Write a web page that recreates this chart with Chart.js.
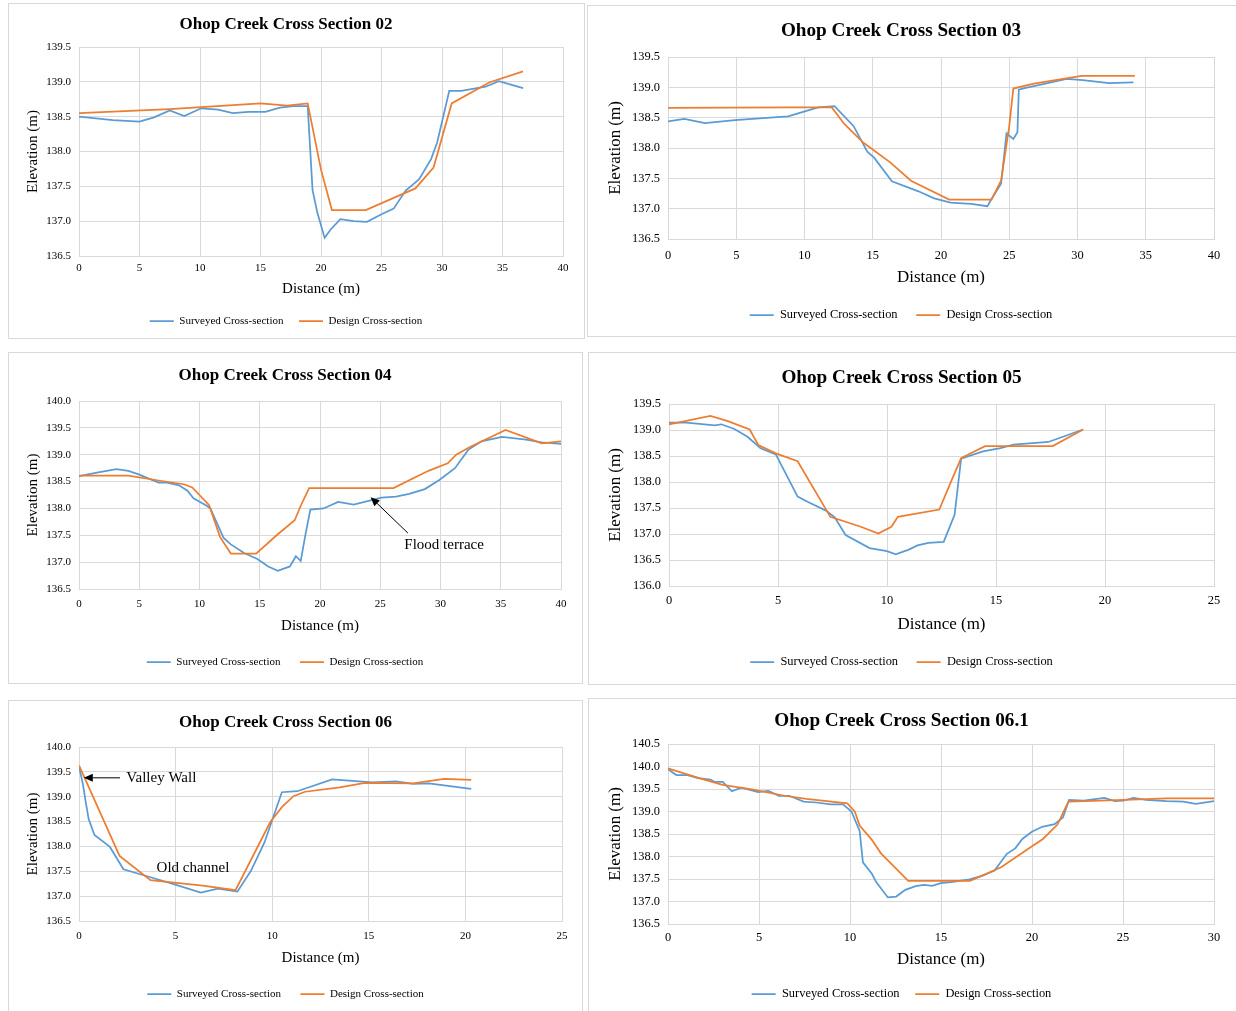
<!DOCTYPE html>
<html>
<head>
<meta charset="utf-8">
<title>Ohop Creek Cross Sections</title>
<script src="https://cdn.jsdelivr.net/npm/chart.js@4.4.1/dist/chart.umd.min.js"></script>
<style>
  html, body { margin: 0; padding: 0; background: #fff; }
  body { width: 1236px; height: 1011px; overflow: hidden; position: relative; }
  .panel { position: absolute; border: 1px solid #d9d9d9; box-sizing: border-box; background: #fff; }
  .panel canvas { position: absolute; left: 0; top: 0; }
</style>
</head>
<body>
<div class="panel" id="p02"><canvas id="c02"></canvas></div>
<div class="panel" id="p03"><canvas id="c03"></canvas></div>
<div class="panel" id="p04"><canvas id="c04"></canvas></div>
<div class="panel" id="p05"><canvas id="c05"></canvas></div>
<div class="panel" id="p06"><canvas id="c06"></canvas></div>
<div class="panel" id="p061"><canvas id="c061"></canvas></div>
<script>
// ohop creek cross sections — surveyed vs design

const BLUE = '#5B9BD5';
const ORANGE = '#ED7D31';
const GRID = '#d9d9d9';
const SERIF = '"Liberation Serif", "Times New Roman", serif';

const SERIES_NAMES = ['Surveyed Cross-section', 'Design Cross-section'];
const X_TITLE = 'Distance (m)';
const Y_TITLE = 'Elevation (m)';

// ── XS 02 ──
const dist02Surveyed = [0, 2.8, 5.0, 6.2, 7.5, 8.7, 10.1, 11.5, 12.7, 14.0, 15.4, 16.6, 17.7, 18.9, 19.3, 19.7, 20.3, 20.8, 21.6, 22.7, 23.8, 25.0, 26.0, 27.0, 28.1, 29.1, 29.6, 30.6, 31.6, 33.6, 34.7, 36.7];
const elev02Surveyed = [138.50, 138.45, 138.43, 138.49, 138.59, 138.51, 138.62, 138.60, 138.55, 138.57, 138.57, 138.63, 138.65, 138.65, 137.45, 137.12, 136.76, 136.88, 137.03, 137.00, 136.99, 137.10, 137.18, 137.44, 137.60, 137.89, 138.13, 138.87, 138.87, 138.93, 139.01, 138.91];
const dist02Design = [0, 7.5, 15.0, 17.2, 18.9, 20.0, 20.9, 23.7, 27.8, 29.3, 30.8, 33.9, 36.7];
const elev02Design = [138.55, 138.61, 138.69, 138.66, 138.69, 137.74, 137.16, 137.16, 137.47, 137.77, 138.69, 138.99, 139.15];

// ── XS 03 ──
const dist03Surveyed = [0, 1.2, 2.7, 4.9, 8.8, 11.0, 12.2, 13.6, 14.6, 15.1, 16.4, 18.3, 19.5, 20.7, 22.2, 23.4, 23.7, 24.4, 24.7, 24.8, 25.3, 25.6, 25.7, 26.2, 27.4, 29.2, 30.4, 32.3, 34.1];
const elev03Surveyed = [138.44, 138.48, 138.41, 138.46, 138.52, 138.67, 138.69, 138.36, 137.94, 137.84, 137.45, 137.29, 137.17, 137.10, 137.08, 137.04, 137.16, 137.41, 138.03, 138.24, 138.15, 138.26, 138.96, 138.99, 139.05, 139.14, 139.12, 139.07, 139.08];
const dist03Design = [0, 9.1, 12.0, 12.9, 14.3, 16.3, 17.8, 20.6, 23.7, 24.4, 25.0, 25.3, 26.8, 30.3, 34.2];
const elev03Design = [138.66, 138.67, 138.67, 138.40, 138.09, 137.76, 137.46, 137.15, 137.15, 137.46, 138.36, 138.98, 139.06, 139.19, 139.19];

// ── XS 04 ──
const dist04Surveyed = [0, 1.6, 3.1, 4.1, 5.0, 6.6, 7.3, 8.3, 9.0, 9.5, 10.6, 10.9, 11.4, 12.0, 12.6, 13.7, 14.8, 15.7, 16.5, 17.5, 18.0, 18.4, 18.8, 19.2, 20.3, 21.5, 22.8, 24.2, 25.1, 26.3, 27.4, 28.7, 29.9, 31.2, 32.3, 33.4, 35.1, 37.1, 38.4, 40.0];
const elev04Surveyed = [138.60, 138.67, 138.73, 138.70, 138.63, 138.48, 138.48, 138.43, 138.33, 138.19, 138.05, 138.00, 137.75, 137.45, 137.33, 137.17, 137.06, 136.92, 136.84, 136.92, 137.11, 137.02, 137.52, 137.98, 138.00, 138.12, 138.07, 138.15, 138.20, 138.22, 138.27, 138.36, 138.53, 138.75, 139.09, 139.25, 139.33, 139.28, 139.23, 139.20];
const dist04Design = [0, 4.1, 6.6, 8.7, 9.4, 10.8, 11.7, 12.6, 14.7, 16.4, 17.9, 18.4, 19.1, 26.1, 29.0, 30.6, 31.3, 32.4, 35.4, 38.4, 40.0];
const elev04Design = [138.61, 138.61, 138.52, 138.45, 138.39, 138.06, 137.47, 137.16, 137.16, 137.50, 137.78, 138.05, 138.38, 138.38, 138.70, 138.84, 139.00, 139.14, 139.46, 139.21, 139.25];

// ── XS 05 ──
const dist05Surveyed = [0, 0.8, 2.1, 2.4, 3.0, 3.6, 4.2, 4.9, 5.9, 6.4, 7.2, 7.6, 8.1, 9.2, 10.0, 10.4, 11.0, 11.4, 11.9, 12.6, 13.1, 13.4, 14.4, 15.2, 15.8, 17.4, 19.0];
const elev05Surveyed = [139.14, 139.14, 139.09, 139.11, 139.02, 138.87, 138.65, 138.53, 137.72, 137.61, 137.45, 137.32, 136.98, 136.73, 136.67, 136.61, 136.70, 136.78, 136.83, 136.85, 137.37, 138.45, 138.59, 138.65, 138.72, 138.77, 139.01];
const dist05Design = [0, 1.9, 2.7, 3.7, 4.1, 4.9, 5.9, 7.4, 8.8, 9.6, 10.2, 10.5, 12.4, 13.0, 13.4, 14.5, 17.6, 19.0];
const elev05Design = [139.11, 139.27, 139.17, 139.01, 138.71, 138.55, 138.40, 137.33, 137.14, 137.01, 137.14, 137.33, 137.47, 138.07, 138.46, 138.69, 138.69, 139.01];

// ── XS 06 ──
const dist06Surveyed = [0, 0.2, 0.35, 0.5, 0.8, 1.6, 2.3, 3.7, 4.9, 6.3, 7.2, 8.2, 8.9, 9.6, 10.5, 11.3, 13.1, 15.2, 16.4, 17.3, 18.1, 20.3];
const elev06Surveyed = [139.61, 139.26, 138.89, 138.55, 138.23, 137.99, 137.54, 137.38, 137.24, 137.07, 137.15, 137.09, 137.51, 138.08, 139.09, 139.11, 139.35, 139.29, 139.31, 139.26, 139.27, 139.16];
const dist06Design = [0, 2.1, 3.7, 6.4, 8.1, 9.9, 10.5, 11.1, 11.7, 13.5, 14.8, 17.3, 18.9, 20.3];
const elev06Design = [139.63, 137.81, 137.32, 137.21, 137.12, 138.49, 138.79, 139.01, 139.10, 139.19, 139.28, 139.27, 139.36, 139.34];

// ── XS 06.1 ──
const dist061Surveyed = [0, 0.46, 1.07, 1.64, 2.33, 2.55, 3.01, 3.51, 4.03, 4.95, 5.52, 6.09, 6.66, 7.45, 8.14, 8.94, 9.62, 10.08, 10.53, 10.71, 11.21, 11.44, 12.08, 12.54, 13.04, 13.61, 14.06, 14.52, 14.98, 15.55, 16.57, 17.26, 17.94, 18.62, 19.08, 19.47, 19.99, 20.56, 21.24, 21.7, 22.04, 22.84, 23.98, 24.55, 25.0, 25.58, 26.26, 27.4, 28.31, 29.0, 30.0];
const elev061Surveyed = [139.94, 139.81, 139.81, 139.74, 139.71, 139.66, 139.66, 139.45, 139.53, 139.43, 139.46, 139.35, 139.35, 139.22, 139.20, 139.16, 139.16, 139.00, 138.57, 137.87, 137.61, 137.43, 137.09, 137.11, 137.26, 137.34, 137.37, 137.35, 137.41, 137.43, 137.49, 137.57, 137.69, 138.06, 138.18, 138.39, 138.55, 138.66, 138.72, 138.87, 139.26, 139.24, 139.30, 139.23, 139.24, 139.30, 139.26, 139.23, 139.22, 139.17, 139.23];
const dist061Design = [0, 0.7, 1.9, 3.0, 4.6, 6.4, 7.6, 9.85, 10.26, 10.53, 11.2, 11.7, 13.2, 16.6, 18.3, 19.9, 20.6, 21.4, 22.0, 25.1, 27.4, 30.0];
const elev061Design = [139.96, 139.87, 139.72, 139.59, 139.49, 139.35, 139.28, 139.18, 139.00, 138.69, 138.37, 138.07, 137.46, 137.46, 137.76, 138.20, 138.39, 138.71, 139.22, 139.26, 139.29, 139.29];

// panel layout in page px: box = [left, top, width, height], area = plot [left, top, right, bottom]
const PANELS = [
    { id: '02', title: 'Ohop Creek Cross Section 02', box: [8, 3, 577, 336], area: [79, 47, 563, 256],
      titleY: 23, tickY: 268, xTitleY: 289, legendY: 321, yTitleX: 33, fs: 1,
      xr: [0, 40], yr: [136.5, 139.5], s: [dist02Surveyed, elev02Surveyed], d: [dist02Design, elev02Design], notes: [] },
    { id: '03', title: 'Ohop Creek Cross Section 03', box: [587, 5, 650, 332], area: [668, 57, 1214, 239],
      titleY: 29, tickY: 256, xTitleY: 278, legendY: 315, yTitleX: 616, fs: 1.13,
      xr: [0, 40], yr: [136.5, 139.5], s: [dist03Surveyed, elev03Surveyed], d: [dist03Design, elev03Design], notes: [] },
    { id: '04', title: 'Ohop Creek Cross Section 04', box: [8, 352, 575, 332], area: [79, 401, 561, 589],
      titleY: 374, tickY: 604, xTitleY: 626, legendY: 662, yTitleX: 33, fs: 1,
      xr: [0, 40], yr: [136.5, 140.0], s: [dist04Surveyed, elev04Surveyed], d: [dist04Design, elev04Design],
      notes: [{ text: 'Flood terrace', at: [30.3, 137.32], arrow: [[27.3, 137.54], [24.2, 138.21]] }] },
    { id: '05', title: 'Ohop Creek Cross Section 05', box: [588, 352, 649, 333], area: [669, 404, 1214, 586],
      titleY: 376, tickY: 601, xTitleY: 625, legendY: 662, yTitleX: 616, fs: 1.13,
      xr: [0, 25], yr: [136.0, 139.5], s: [dist05Surveyed, elev05Surveyed], d: [dist05Design, elev05Design], notes: [] },
    { id: '06', title: 'Ohop Creek Cross Section 06', box: [8, 700, 575, 313], area: [79, 747, 562, 921],
      titleY: 721, tickY: 936, xTitleY: 958, legendY: 994, yTitleX: 33, fs: 1,
      xr: [0, 25], yr: [136.5, 140.0], s: [dist06Surveyed, elev06Surveyed], d: [dist06Design, elev06Design],
      notes: [{ text: 'Valley Wall', at: [2.45, 139.38], align: 'left', arrow: [[2.12, 139.38], [0.25, 139.38]] },
              { text: 'Old channel', at: [5.9, 137.57] }] },
    { id: '061', title: 'Ohop Creek Cross Section 06.1', box: [588, 698, 649, 315], area: [668, 744, 1214, 924],
      titleY: 719, tickY: 938, xTitleY: 960, legendY: 994, yTitleX: 616, fs: 1.13,
      xr: [0, 30], yr: [136.5, 140.5], s: [dist061Surveyed, elev061Surveyed], d: [dist061Design, elev061Design], notes: [] },
];

const toPoints = (xs, ys) => xs.map((x, i) => ({ x, y: ys[i] }));

// text + arrow callouts, placed in data units
const notesPlugin = {
    id: 'notes',
    afterDatasetsDraw(chart, args, opts) {
        const { ctx, scales: { x, y } } = chart;
        (opts.items || []).forEach(n => {
            ctx.save();
            ctx.fillStyle = '#000';
            ctx.strokeStyle = '#000';
            ctx.font = `15px ${SERIF}`;
            ctx.textAlign = n.align || 'center';
            ctx.textBaseline = 'middle';
            ctx.fillText(n.text, x.getPixelForValue(n.at[0]), y.getPixelForValue(n.at[1]));
            if (n.arrow) {
                const x0 = x.getPixelForValue(n.arrow[0][0]), y0 = y.getPixelForValue(n.arrow[0][1]);
                const x1 = x.getPixelForValue(n.arrow[1][0]), y1 = y.getPixelForValue(n.arrow[1][1]);
                const a = Math.atan2(y1 - y0, x1 - x0);
                const len = 9, half = 4;
                ctx.lineWidth = 1;
                ctx.beginPath();
                ctx.moveTo(x0, y0);
                ctx.lineTo(x1 - Math.cos(a) * len, y1 - Math.sin(a) * len);
                ctx.stroke();
                ctx.beginPath();
                ctx.moveTo(x1, y1);
                ctx.lineTo(x1 - Math.cos(a) * len - Math.sin(a) * half, y1 - Math.sin(a) * len + Math.cos(a) * half);
                ctx.lineTo(x1 - Math.cos(a) * len + Math.sin(a) * half, y1 - Math.sin(a) * len - Math.cos(a) * half);
                ctx.closePath();
                ctx.fill();
            }
            ctx.restore();
        });
    }
};

function renderPanel(p) {
    const box = document.getElementById('p' + p.id);
    const [bx, by, bw, bh] = p.box;
    Object.assign(box.style, { left: bx + 'px', top: by + 'px', width: bw + 'px', height: bh + 'px' });

    const W = bw - 2, H = bh - 2;
    const ox = bx + 1, oy = by + 1;
    const canvas = document.getElementById('c' + p.id);
    canvas.width = W; canvas.height = H;
    canvas.style.width = W + 'px'; canvas.style.height = H + 'px';

    const fTitle = 17 * p.fs, fTick = 11 * p.fs, fAxis = 15 * p.fs, fLegend = 11 * p.fs;
    const LH = 1.2;
    const aL = p.area[0] - ox, aT = p.area[1] - oy, aR = p.area[2] - ox, aB = p.area[3] - oy;

    // title text sits a touch high in its line box, nudge it down
    const titleY = p.titleY - oy + 2;
    const titlePad = { top: titleY - fTitle * LH / 2, bottom: aT - titleY - fTitle * LH / 2 };
    const yTitlePad = p.yTitleX - ox - fAxis * LH / 2;
    const xTickPad = p.tickY - oy - aB - fTick * LH / 2;
    const xAxisH = p.xTitleY - oy - aB + fAxis * LH / 2 + 2;
    const legendTop = aB + xAxisH;
    const legendPad = p.legendY - oy - legendTop - fLegend / 2;
    const padBottom = H - (legendTop + fLegend + legendPad + 10);

    const tickFont = { family: SERIF, size: fTick };
    const axisFont = { family: SERIF, size: fAxis };

    new Chart(canvas, {
        type: 'scatter',
        data: {
            datasets: [
                { label: SERIES_NAMES[0], data: toPoints(p.s[0], p.s[1]), borderColor: BLUE, backgroundColor: BLUE,
                  showLine: true, borderWidth: 1.75, pointRadius: 0, tension: 0, order: 1 },
                { label: SERIES_NAMES[1], data: toPoints(p.d[0], p.d[1]), borderColor: ORANGE, backgroundColor: ORANGE,
                  showLine: true, borderWidth: 1.75, pointRadius: 0, tension: 0, order: 0 },
            ]
        },
        options: {
            responsive: false,
            animation: false,
            layout: { padding: { left: 0, top: 0, right: W - aR, bottom: padBottom } },
            scales: {
                x: {
                    type: 'linear', min: p.xr[0], max: p.xr[1],
                    ticks: { stepSize: 5, autoSkip: false, maxRotation: 0, padding: xTickPad, color: '#000', font: tickFont },
                    grid: { color: GRID, drawTicks: false },
                    border: { color: GRID },
                    title: { display: true, text: X_TITLE, color: '#000', font: axisFont, padding: { top: 0, bottom: 2 } },
                    afterFit: s => { s.height = xAxisH; }
                },
                y: {
                    type: 'linear', min: p.yr[0], max: p.yr[1],
                    ticks: { stepSize: 0.5, padding: 8, color: '#000', font: tickFont, callback: v => v.toFixed(1) },
                    grid: { color: GRID, drawTicks: false },
                    border: { color: GRID },
                    title: { display: true, text: Y_TITLE, color: '#000', font: axisFont, padding: { top: yTitlePad, bottom: 0 } },
                    afterFit: s => { s.width = aL; }
                }
            },
            plugins: {
                title: { display: true, text: p.title, color: '#000', font: { family: SERIF, size: fTitle, weight: 'bold' }, padding: titlePad },
                legend: {
                    position: 'bottom',
                    labels: { usePointStyle: true, pointStyle: 'line', pointStyleWidth: 24, padding: legendPad,
                              color: '#000', font: { family: SERIF, size: fLegend },
                              sort: (a, b) => a.datasetIndex - b.datasetIndex }
                },
                tooltip: { enabled: false },
                notes: { items: p.notes }
            }
        },
        plugins: [notesPlugin]
    });
}

PANELS.forEach(renderPanel);
</script>
</body>
</html>
